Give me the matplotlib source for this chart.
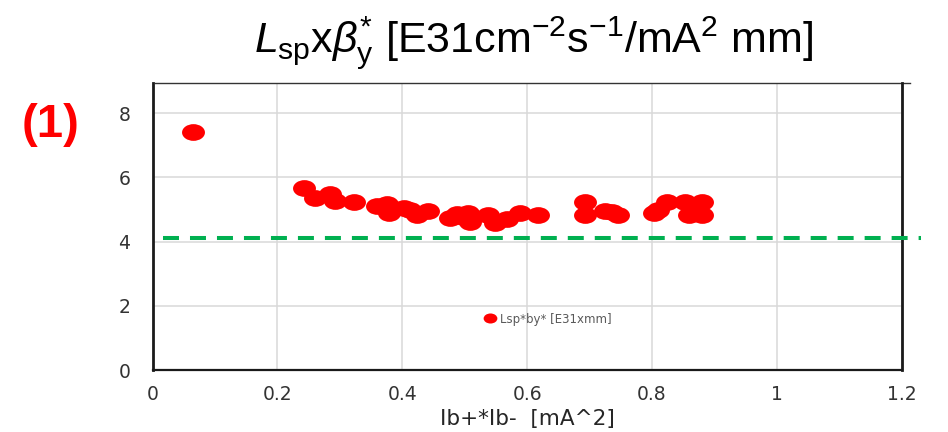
import matplotlib
matplotlib.use("Agg")
import matplotlib.pyplot as plt
from matplotlib.path import Path
from matplotlib.transforms import Affine2D

# Luminosity x beta* per bunch-current product
ib_product = [0.065, 0.242, 0.260, 0.284, 0.292, 0.322, 0.359, 0.375, 0.378,
              0.402, 0.413, 0.423, 0.442, 0.477, 0.487, 0.498, 0.506, 0.509,
              0.538, 0.549, 0.568, 0.589, 0.618, 0.693, 0.693, 0.725, 0.736,
              0.746, 0.803, 0.810, 0.824, 0.853, 0.859, 0.866, 0.880, 0.880]
lsp_beta = [7.40, 5.68, 5.35, 5.48, 5.27, 5.24, 5.11, 5.16, 4.88,
            5.04, 4.98, 4.83, 4.96, 4.72, 4.86, 4.78, 4.88, 4.62,
            4.83, 4.57, 4.69, 4.88, 4.83, 5.24, 4.83, 4.96, 4.93,
            4.83, 4.88, 4.98, 5.24, 5.24, 4.83, 5.05, 5.24, 4.83]

reference_level = 4.1
reference_span = [0.017, 1.231]

x_ticks = [0, 0.2, 0.4, 0.6, 0.8, 1.0, 1.2]
x_tick_labels = ["0", "0.2", "0.4", "0.6", "0.8", "1", "1.2"]
y_ticks = [0, 2, 4, 6, 8]
y_tick_labels = ["0", "2", "4", "6", "8"]

series_label = "Lsp*by* [E31xmm]"
x_label = "Ib+*Ib-  [mA^2]"
panel_tag = "(1)"

plt.rcParams["mathtext.fontset"] = "custom"
plt.rcParams["mathtext.rm"] = "Liberation Sans"
plt.rcParams["mathtext.it"] = "Liberation Sans:italic"
plt.rcParams["mathtext.bf"] = "Liberation Sans:bold"

fig = plt.figure(figsize=(9.48, 4.32), dpi=100)
ax = fig.add_axes([0.1609, 0.1435, 0.7903, 0.6651])

# slightly flattened dot marker
ellipse = Path.unit_circle().transformed(Affine2D().scale(1.0, 0.73))

ax.plot(ib_product, lsp_beta, linestyle="none", marker=ellipse,
        markersize=16.5, color="#FF0000", markeredgewidth=0,
        label=series_label, zorder=3)

ax.plot(reference_span, [reference_level, reference_level], color="#00B050",
        linewidth=2.9, dashes=(3.97, 2.73), clip_on=False, zorder=4)

ax.set_xlim(0, 1.2)
ax.set_ylim(0, 8.95)
ax.set_xticks(x_ticks)
ax.set_xticklabels(x_tick_labels)
ax.set_yticks(y_ticks)
ax.set_yticklabels(y_tick_labels)
ax.tick_params(length=0, labelsize=13.5, labelcolor="#333333")
ax.tick_params(axis="x", pad=10.5)
ax.tick_params(axis="y", pad=16)
for lab in ax.get_xticklabels() + ax.get_yticklabels():
    lab.set_family("DejaVu Sans")

ax.grid(True, color="#D9D9D9", linewidth=1.1)
ax.set_axisbelow(True)

for side in ("left", "right"):
    ax.spines[side].set_linewidth(2.0)
    ax.spines[side].set_color("#1a1a1a")
ax.spines["bottom"].set_linewidth(1.6)
ax.spines["bottom"].set_color("#1a1a1a")
ax.spines["top"].set_visible(False)
ax.plot([0.003, 1.011], [1, 1], transform=ax.transAxes, color="#333333",
        linewidth=1.0, clip_on=False)

ax.set_xlabel(x_label, fontsize=15.5, color="#262626", labelpad=4,
              family="DejaVu Sans")

leg = ax.legend(loc="center left", bbox_to_anchor=(0.4425, 0.1775),
                frameon=False, fontsize=8.5, markerscale=0.6,
                handlelength=1.0, handletextpad=0.35, borderpad=0,
                borderaxespad=0)
for t in leg.get_texts():
    t.set_color("#595959")

fig.text(0.563, 0.9,
         r"$L_{\mathrm{sp}}\mathrm{x}\beta_{\mathrm{y}}^{*}$"
         r" [E31cm$^{\mathrm{-2}}$s$^{\mathrm{-1}}$/mA$^{\mathrm{2}}$ mm]",
         ha="center", va="center", fontsize=31, family="Liberation Sans",
         color="black")

fig.text(0.023, 0.711, panel_tag, ha="left", va="center", fontsize=34,
         fontweight="bold", color="#FF0000", family="Liberation Sans")

fig.savefig("out.png", dpi=100)
